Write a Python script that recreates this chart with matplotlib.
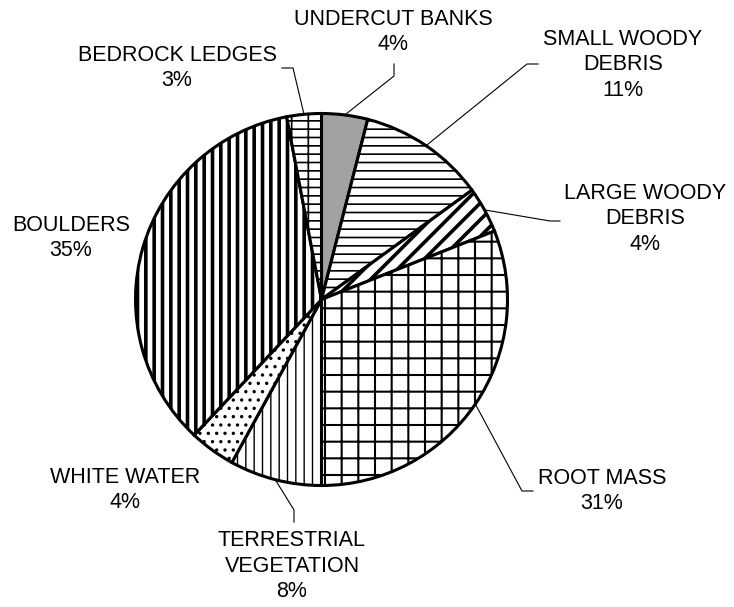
import numpy as np
import matplotlib
matplotlib.use("Agg")
import matplotlib.pyplot as plt

plt.rcParams['font.family'] = ['Liberation Sans', 'DejaVu Sans']

# habitat cover shares (%), clockwise from 12 o'clock
labels = ["UNDERCUT BANKS", "SMALL WOODY\nDEBRIS", "LARGE WOODY\nDEBRIS", "ROOT MASS",
          "TERRESTRIAL\nVEGETATION", "WHITE WATER", "BOULDERS", "BEDROCK LEDGES"]
values = [4, 11, 4, 31, 8, 4, 35, 3]

# fill style per slice (face colour, hatch, hatch width)
faces = ["#a2a2a2", "white", "white", "white", "white", "white", "white", "white"]
hatches = ["", "--", "//", "+", "||", "..", "||", "+-"]
hatch_lw = [1.0, 1.2, 2.6, 1.5, 1.0, 1.2, 2.6, 1.2]

# label layout in pixel coords: text centre, and leader elbow + end (None = no leader)
label_xy = [(393, 32), (623, 65), (645, 219), (602, 491),
            (292, 566), (125, 490), (71, 238), (177, 68)]
leaders = [((394, 76), (394, 64)), ((527, 64), (538, 64)), ((550, 221), (560, 221)),
           ((522, 491), (533, 491)), ((294, 510), (294, 522)), None, None,
           ((293, 68), (282, 68))]

W, H = 734, 607
cx, cy, r = 321.5, 299.5, 186

fig = plt.figure(figsize=(W / 100, H / 100), dpi=100)
ax = fig.add_axes([0, 0, 1, 1])

wedges, _ = ax.pie(values, startangle=-90, counterclock=True, center=(cx, cy), radius=r,
                   wedgeprops=dict(edgecolor="black", linewidth=2.2))
for w, fc, h, lw in zip(wedges, faces, hatches, hatch_lw):
    w.set_facecolor(fc)
    w.set_hatch(h)
    if hasattr(w, "set_hatch_linewidth"):
        w.set_hatch_linewidth(lw)

ax.set_xlim(0, W)
ax.set_ylim(H, 0)
ax.set_aspect("equal")
ax.axis("off")

# leader lines start at the slice middle on the rim
frac = np.array(values) / np.sum(values)
mids = (np.cumsum(frac) - frac / 2) * 2 * np.pi
for i, (lab, pos) in enumerate(zip(labels, label_xy)):
    pct = f"{values[i]}%"
    ax.text(pos[0], pos[1], lab + "\n" + pct, ha="center", va="center",
            fontsize=15.5, linespacing=1.3, color="black")
    if leaders[i] is not None:
        x0 = cx + r * np.sin(mids[i])
        y0 = cy - r * np.cos(mids[i])
        (x1, y1), (x2, y2) = leaders[i]
        ax.plot([x0, x1, x2], [y0, y1, y2], color="black", lw=0.8)

fig.savefig("out.png", dpi=100)
